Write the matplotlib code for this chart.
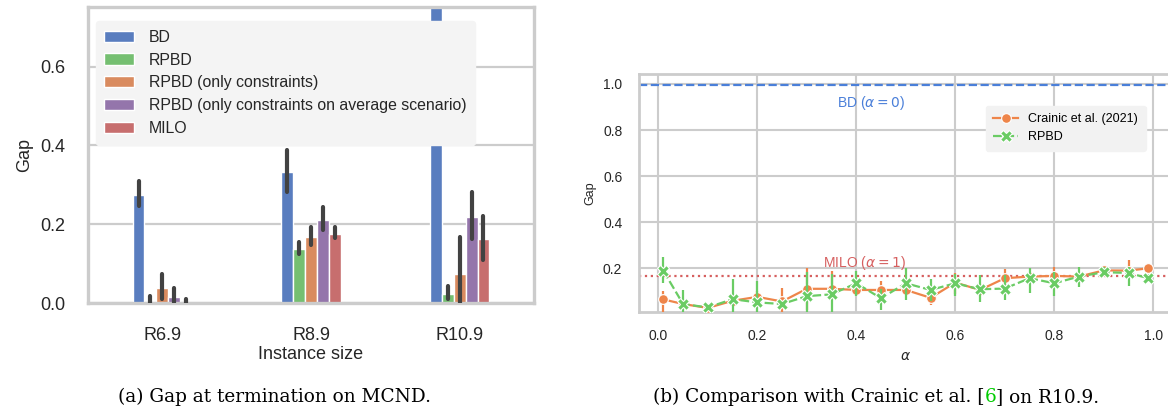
import matplotlib
matplotlib.use("Agg")
import matplotlib.pyplot as plt
import numpy as np
import seaborn as sns

# ---------------- data: left panel (gap at termination) ----------------
categories = ["R6.9", "R8.9", "R10.9"]
method_names = ["BD", "RPBD", "RPBD (only constraints)",
                "RPBD (only constraints on average scenario)", "MILO"]

bd_gap = [0.275, 0.332, 0.99]
bd_lo = [0.247, 0.282, 0.97]
bd_hi = [0.309, 0.387, 1.01]

rpbd_gap = [0.003, 0.138, 0.024]
rpbd_lo = [0.0, 0.125, 0.011]
rpbd_hi = [0.019, 0.156, 0.043]

rpbd_c_gap = [0.039, 0.168, 0.074]
rpbd_c_lo = [0.010, 0.148, 0.0]
rpbd_c_hi = [0.074, 0.194, 0.168]

rpbd_avg_gap = [0.014, 0.211, 0.218]
rpbd_avg_lo = [0.0, 0.184, 0.162]
rpbd_avg_hi = [0.038, 0.244, 0.281]

milo_gap = [0.001, 0.175, 0.163]
milo_lo = [0.0, 0.165, 0.110]
milo_hi = [0.009, 0.192, 0.220]

# ---------------- data: right panel (comparison on R10.9) ----------------
alphas = [0.01, 0.05, 0.10, 0.15, 0.20, 0.25, 0.30, 0.35, 0.40, 0.45, 0.50,
          0.55, 0.60, 0.65, 0.70, 0.75, 0.80, 0.85, 0.90, 0.95, 0.99]
crainic_gap = [0.065, 0.045, 0.028, 0.059, 0.076, 0.056, 0.111, 0.111, 0.106, 0.106, 0.106,
               0.072, 0.138, 0.106, 0.157, 0.164, 0.167, 0.164, 0.191, 0.190, 0.200]
crainic_lo = [0.0, 0.030, 0.020, 0.040, 0.050, 0.0, 0.019, 0.080, 0.085, 0.075, 0.085,
              0.040, 0.090, 0.080, 0.127, 0.150, 0.157, 0.150, 0.175, 0.160, 0.180]
crainic_hi = [0.100, 0.060, 0.036, 0.080, 0.100, 0.113, 0.200, 0.188, 0.120, 0.145, 0.125,
              0.100, 0.180, 0.130, 0.195, 0.180, 0.205, 0.180, 0.205, 0.237, 0.220]
rpbd_r_gap = [0.190, 0.045, 0.030, 0.066, 0.052, 0.045, 0.079, 0.087, 0.135, 0.070, 0.135,
              0.106, 0.135, 0.109, 0.112, 0.157, 0.135, 0.164, 0.183, 0.180, 0.157]
rpbd_r_lo = [0.135, 0.0, 0.022, 0.0, 0.0, 0.030, 0.0, 0.0, 0.080, 0.020, 0.063,
             0.058, 0.080, 0.055, 0.063, 0.092, 0.080, 0.117, 0.170, 0.125, 0.145]
rpbd_r_hi = [0.250, 0.106, 0.040, 0.152, 0.146, 0.060, 0.182, 0.176, 0.188, 0.110, 0.200,
             0.152, 0.176, 0.171, 0.171, 0.200, 0.182, 0.207, 0.205, 0.207, 0.175]
bd_level = 0.994
milo_level = 0.167

# ---------------- styling ----------------
W, H = 1168, 420
GRID = "#cccccc"
SANS = "Liberation Sans"
plt.rcParams["font.family"] = [SANS, "DejaVu Sans"]
plt.rcParams["mathtext.fontset"] = "dejavusans"

muted = sns.color_palette("muted")
bar_colors = [sns.desaturate(muted[i], 0.75) for i in (0, 2, 1, 4, 3)]
c_orange = muted[1]
c_green = muted[2]
c_blue = "#4a7fd9"
c_red = "#d65f5f"

fig = plt.figure(figsize=(W / 100, H / 100), dpi=100)

# ---------------- left panel ----------------
ax1 = fig.add_axes([88 / W, (H - 303) / H, (534 - 88) / W, (303 - 7) / H])
series = [(bd_gap, bd_lo, bd_hi), (rpbd_gap, rpbd_lo, rpbd_hi),
          (rpbd_c_gap, rpbd_c_lo, rpbd_c_hi), (rpbd_avg_gap, rpbd_avg_lo, rpbd_avg_hi),
          (milo_gap, milo_lo, milo_hi)]
x = np.arange(len(categories))
pitch = 0.08
for i, (name, (vals, lo, hi)) in enumerate(zip(method_names, series)):
    pos = x + (i - 2) * pitch
    ax1.bar(pos, vals, width=pitch, color=bar_colors[i], edgecolor="white",
            linewidth=1.0, label=name, zorder=2)
    ax1.vlines(pos, lo, hi, color="#424242", lw=3.0, zorder=3, capstyle="round")

ax1.set_xlim(-0.5, len(categories) - 0.5)
ax1.set_ylim(0, 0.751)
ax1.set_xticks(x)
ax1.set_xticklabels(categories)
ax1.set_yticks([0.0, 0.2, 0.4, 0.6])
ax1.set_yticklabels(["0.0", "0.2", "0.4", "0.6"])
ax1.tick_params(axis="x", length=0, labelsize=13, pad=17.5, colors="#262626")
ax1.tick_params(axis="y", length=0, labelsize=13, pad=16.5, colors="#262626")
ax1.set_axisbelow(True)
ax1.yaxis.grid(True, color=GRID, lw=1.6)
ax1.xaxis.grid(False)
for s in ax1.spines.values():
    s.set_color(GRID)
    s.set_linewidth(2.4)
ax1.set_ylabel("Gap", fontsize=13, color="#262626", labelpad=5)
ax1.set_xlabel("Instance size", fontsize=13, color="#262626", labelpad=1)
leg1 = ax1.legend(loc="upper left", bbox_to_anchor=(0.017, 0.953), borderaxespad=0,
                  fontsize=11.4, frameon=True, fancybox=True, handlelength=1.9,
                  handletextpad=0.9, labelspacing=0.5, borderpad=0.55)
leg1.get_frame().set_facecolor("#f4f4f4")
leg1.get_frame().set_edgecolor("#f4f4f4")
leg1.get_frame().set_alpha(1)
for t in leg1.get_texts():
    t.set_color("#262626")

# ---------------- right panel ----------------
ax2 = fig.add_axes([639 / W, (H - 312.3) / H, (1172.6 - 639) / W, (312.3 - 74.3) / H])
ax2.axhline(bd_level, color=c_blue, ls="--", lw=1.6, zorder=2)
ax2.axhline(milo_level, color=c_red, ls=":", lw=1.6, zorder=2)
ax2.text(0.5, 0.918, r"BD ($\alpha = 0$)", ha="right", va="center", color=c_blue, fontsize=10)
ax2.text(0.5, 0.224, r"MILO ($\alpha = 1$)", ha="right", va="center", color=c_red, fontsize=10)

ax2.vlines(alphas, crainic_lo, crainic_hi, color=c_orange, lw=1.6, zorder=3)
ax2.plot(alphas, crainic_gap, color=c_orange, lw=1.6, marker="o", ms=7,
         mec="white", mew=0.8, label="Crainic et al. (2021)", zorder=4)
ax2.vlines(alphas, rpbd_r_lo, rpbd_r_hi, color=c_green, lw=1.6, zorder=5)
ax2.plot(alphas, rpbd_r_gap, color=c_green, lw=1.6, marker="X", ms=8,
         mec="white", mew=0.8, dashes=(4, 1.5), label="RPBD", zorder=6)

ax2.set_xlim(-0.039, 1.039)
ax2.set_ylim(0.009, 1.042)
ax2.set_xticks([0.0, 0.2, 0.4, 0.6, 0.8, 1.0])
ax2.set_yticks([0.2, 0.4, 0.6, 0.8, 1.0])
ax2.tick_params(axis="both", length=0, labelsize=10, pad=12, colors="#262626")
ax2.set_axisbelow(True)
ax2.grid(True, color=GRID, lw=1.5)
for s in ax2.spines.values():
    s.set_color(GRID)
    s.set_linewidth(2.0)
ax2.set_ylabel("Gap", fontsize=9, color="#262626", labelpad=5)
ax2.set_xlabel(r"$\alpha$", fontsize=10, color="#262626", labelpad=4)
leg2 = ax2.legend(loc="upper left", bbox_to_anchor=(0.650, 0.867), borderaxespad=0,
                  fontsize=9, frameon=True, fancybox=True, handlelength=2.0,
                  labelspacing=0.45, borderpad=0.6)
leg2.get_frame().set_facecolor("#f2f2f2")
leg2.get_frame().set_edgecolor("#f2f2f2")
leg2.get_frame().set_alpha(1)

# ---------------- captions ----------------
SERIF = ["DejaVu Serif"]
cap_size = 13.3
cap_y = 1 - 397 / H
fig.text(275 / W, cap_y, "(a) Gap at termination on MCND.", ha="center", va="center",
         fontsize=cap_size, family=SERIF)

fig.canvas.draw()
renderer = fig.canvas.get_renderer()
parts = [("(b) Comparison with Crainic et al. [", "black"), ("6", "#00cc00"),
         ("] on R10.9.", "black")]
texts = []
for s, c in parts:
    texts.append(fig.text(0, cap_y, s, ha="left", va="center", fontsize=cap_size,
                          family=SERIF, color=c))
widths = [t.get_window_extent(renderer).width for t in texts]
total = sum(widths)
xstart = 876 - total / 2
for t, w in zip(texts, widths):
    t.set_x(xstart / W)
    xstart += w

fig.savefig("out.png", dpi=100)
